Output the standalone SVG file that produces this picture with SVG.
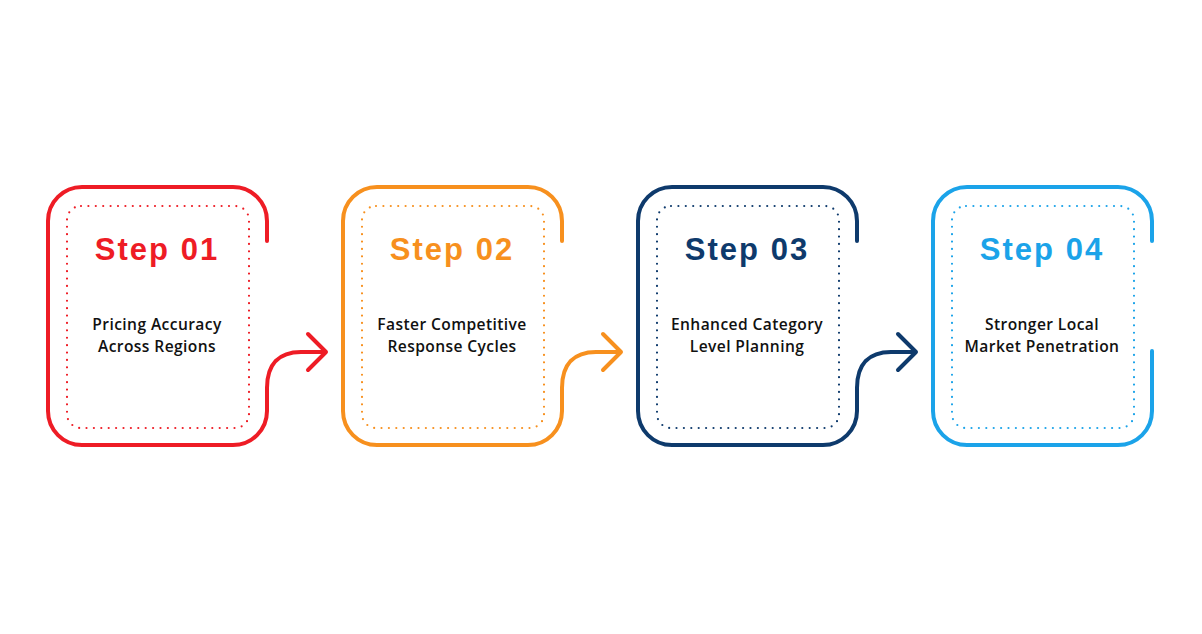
<svg xmlns="http://www.w3.org/2000/svg" width="1202" height="634" viewBox="0 0 1202 634">
<style>
.outer{fill:none;stroke-width:4;stroke-linecap:round;stroke-linejoin:round}
.dots{fill:none;stroke-width:2.2;stroke-linecap:round;stroke-dasharray:0 7.4}
.conn{fill:none;stroke-width:4;stroke-linecap:round;stroke-linejoin:round}
.title{font-family:"Liberation Sans",Arial,sans-serif;font-weight:700;font-size:31px;letter-spacing:2px;text-anchor:middle}
.body{font-family:"Open Sans","Liberation Sans",sans-serif;font-weight:600;font-size:15.6px;letter-spacing:0.4px;fill:#111;text-anchor:middle}
.c1{stroke:#EE1C25}.c2{stroke:#F7901E}.c3{stroke:#0E3A6C}.c4{stroke:#1BA3E9}
.f1{fill:#EE1C25}.f2{fill:#F7901E}.f3{fill:#0E3A6C}.f4{fill:#1BA3E9}
</style>
<rect width="1202" height="634" fill="#ffffff"/>
<defs>
<rect id="inner" x="67" y="206" width="182" height="222" rx="14"/>
</defs>
<g id="step1">
<path class="outer c1" d="M267,241 V221 A34,34 0 0 0 233,187 H82 A34,34 0 0 0 48,221 V411 A34,34 0 0 0 82,445 H233 A34,34 0 0 0 267,411 V388"/>
<use href="#inner" class="dots c1"/>
<text class="title f1" x="157" y="260">Step 01</text>
<text class="body" x="157" y="330">Pricing Accuracy</text>
<text class="body" x="157" y="351.5">Across Regions</text>
</g>
<g id="step2" transform="translate(295,0)">
<path class="outer c2" d="M267,241 V221 A34,34 0 0 0 233,187 H82 A34,34 0 0 0 48,221 V411 A34,34 0 0 0 82,445 H233 A34,34 0 0 0 267,411 V388"/>
<use href="#inner" class="dots c2"/>
<text class="title f2" x="157" y="260">Step 02</text>
<text class="body" x="157" y="330">Faster Competitive</text>
<text class="body" x="157" y="351.5">Response Cycles</text>
</g>
<g id="step3" transform="translate(590,0)">
<path class="outer c3" d="M267,241 V221 A34,34 0 0 0 233,187 H82 A34,34 0 0 0 48,221 V411 A34,34 0 0 0 82,445 H233 A34,34 0 0 0 267,411 V388"/>
<use href="#inner" class="dots c3"/>
<text class="title f3" x="157" y="260">Step 03</text>
<text class="body" x="157" y="330">Enhanced Category</text>
<text class="body" x="157" y="351.5">Level Planning</text>
</g>
<g id="step4" transform="translate(885,0)">
<path class="outer c4" d="M267,241 V221 A34,34 0 0 0 233,187 H82 A34,34 0 0 0 48,221 V411 A34,34 0 0 0 82,445 H233 A34,34 0 0 0 267,411 V351"/>
<use href="#inner" class="dots c4"/>
<text class="title f4" x="157" y="260">Step 04</text>
<text class="body" x="157" y="330">Stronger Local</text>
<text class="body" x="157" y="351.5">Market Penetration</text>
</g>
<g id="connectors">
<path class="conn c1" d="M267,388 C267,364 279,352 301,352 H326 M308,334 L326,352 L308,370"/>
<path class="conn c2" d="M562,388 C562,364 574,352 596,352 H621 M603,334 L621,352 L603,370"/>
<path class="conn c3" d="M857,388 C857,364 869,352 891,352 H916 M898,334 L916,352 L898,370"/>
</g>
</svg>
